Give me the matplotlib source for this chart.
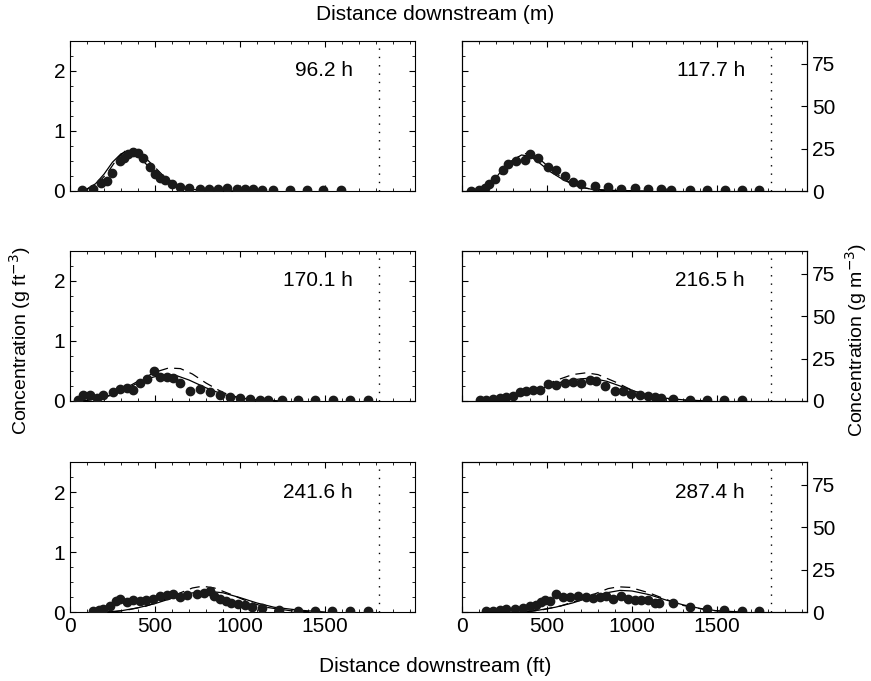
import numpy as np
import matplotlib
matplotlib.use('Agg')
import matplotlib.pyplot as plt
from matplotlib.ticker import AutoMinorLocator

plt.rcParams['font.family'] = ['Liberation Sans', 'DejaVu Sans']

labels = ['96.2 h', '117.7 h', '170.1 h', '216.5 h', '241.6 h', '287.4 h']

obs_x = [
    [69, 137, 180, 215, 250, 294, 320, 343, 372, 400, 430, 470, 500, 530, 560, 600, 647, 700, 764, 820, 870, 921, 980, 1030, 1078, 1130, 1196, 1294, 1392, 1490, 1597],
    [55, 100, 133, 160, 192, 241, 270, 320, 368, 398, 447, 505, 555, 604, 653, 702, 780, 858, 937, 1015, 1094, 1172, 1231, 1339, 1441, 1545, 1648, 1750],
    [49, 78, 118, 157, 196, 255, 294, 333, 372, 412, 451, 496, 529, 568, 608, 647, 706, 764, 823, 882, 941, 1000, 1058, 1117, 1166, 1245, 1343, 1441, 1548, 1646, 1754],
    [104, 143, 182, 221, 261, 300, 339, 378, 417, 457, 506, 555, 604, 653, 702, 751, 790, 839, 898, 947, 996, 1045, 1094, 1133, 1172, 1241, 1339, 1441, 1541, 1646],
    [137, 170, 196, 235, 270, 294, 333, 372, 412, 450, 490, 530, 568, 608, 647, 686, 745, 790, 823, 850, 882, 920, 950, 990, 1030, 1070, 1130, 1230, 1340, 1440, 1540, 1650, 1754],
    [143, 182, 221, 261, 310, 359, 398, 437, 466, 486, 515, 555, 594, 633, 682, 731, 770, 810, 849, 888, 937, 976, 1015, 1055, 1094, 1133, 1162, 1241, 1339, 1441, 1541, 1646, 1750],
]
obs_y = [
    [0.02, 0.03, 0.13, 0.16, 0.3, 0.5, 0.55, 0.62, 0.65, 0.63, 0.55, 0.4, 0.28, 0.22, 0.18, 0.12, 0.06, 0.05, 0.04, 0.04, 0.04, 0.05, 0.04, 0.03, 0.03, 0.02, 0.02, 0.01, 0.01, 0.01, 0.01],
    [0.0, 0.02, 0.05, 0.12, 0.2, 0.35, 0.45, 0.5, 0.52, 0.62, 0.55, 0.4, 0.35, 0.25, 0.15, 0.12, 0.08, 0.06, 0.04, 0.05, 0.04, 0.03, 0.02, 0.01, 0.01, 0.01, 0.01, 0.01],
    [0.02, 0.1, 0.1, 0.05, 0.1, 0.15, 0.2, 0.22, 0.18, 0.3, 0.37, 0.5, 0.4, 0.4, 0.38, 0.3, 0.17, 0.2, 0.15, 0.1, 0.06, 0.05, 0.03, 0.02, 0.02, 0.01, 0.01, 0.01, 0.01, 0.01, 0.01],
    [0.01, 0.02, 0.03, 0.05, 0.07, 0.09, 0.15, 0.17, 0.18, 0.19, 0.28, 0.26, 0.3, 0.32, 0.3, 0.35, 0.33, 0.25, 0.17, 0.16, 0.12, 0.1, 0.08, 0.06, 0.05, 0.04, 0.02, 0.01, 0.01, 0.01],
    [0.02, 0.03, 0.05, 0.1, 0.18, 0.22, 0.16, 0.2, 0.18, 0.2, 0.22, 0.27, 0.28, 0.3, 0.25, 0.28, 0.3, 0.32, 0.35, 0.27, 0.22, 0.18, 0.15, 0.13, 0.11, 0.09, 0.06, 0.04, 0.02, 0.02, 0.01, 0.01, 0.01],
    [0.01, 0.02, 0.03, 0.05, 0.05, 0.07, 0.1, 0.12, 0.17, 0.2, 0.18, 0.3, 0.25, 0.25, 0.27, 0.25, 0.24, 0.25, 0.27, 0.22, 0.26, 0.22, 0.2, 0.2, 0.2, 0.15, 0.15, 0.15, 0.08, 0.05, 0.03, 0.02, 0.02],
]

solid_x = [
    [80, 150, 200, 250, 300, 340, 380, 430, 500, 560, 620, 700, 800, 1000],
    [60, 130, 180, 230, 290, 350, 400, 450, 520, 600, 680, 760, 900, 1100],
    [60, 150, 250, 350, 450, 550, 620, 700, 800, 900, 1000, 1100, 1250],
    [100, 200, 300, 400, 500, 600, 700, 760, 850, 950, 1050, 1150, 1300, 1450],
    [200, 300, 400, 500, 600, 700, 800, 900, 1000, 1100, 1200, 1350, 1500],
    [350, 450, 550, 650, 750, 850, 930, 1000, 1100, 1200, 1300, 1400, 1500, 1650],
]
solid_y = [
    [0.0, 0.12, 0.28, 0.48, 0.62, 0.66, 0.62, 0.5, 0.3, 0.17, 0.08, 0.03, 0.01, 0.0],
    [0.0, 0.05, 0.15, 0.33, 0.5, 0.6, 0.58, 0.48, 0.32, 0.18, 0.08, 0.03, 0.01, 0.0],
    [0.0, 0.03, 0.1, 0.23, 0.37, 0.44, 0.43, 0.35, 0.22, 0.11, 0.05, 0.02, 0.0],
    [0.0, 0.02, 0.06, 0.14, 0.24, 0.33, 0.37, 0.38, 0.33, 0.23, 0.13, 0.06, 0.02, 0.0],
    [0.0, 0.02, 0.07, 0.14, 0.23, 0.31, 0.35, 0.32, 0.24, 0.15, 0.08, 0.03, 0.0],
    [0.0, 0.03, 0.08, 0.15, 0.24, 0.32, 0.36, 0.35, 0.29, 0.2, 0.12, 0.06, 0.02, 0.0],
]
dash_x = [
    [80, 160, 220, 280, 330, 370, 420, 480, 540, 600, 680, 780, 950],
    [70, 150, 200, 260, 320, 380, 430, 490, 560, 640, 720, 820, 1000],
    [80, 200, 300, 400, 500, 580, 650, 720, 800, 900, 1000, 1100, 1250],
    [120, 250, 350, 450, 550, 650, 730, 800, 900, 1000, 1100, 1250, 1400],
    [250, 350, 450, 550, 650, 720, 780, 850, 950, 1050, 1150, 1300, 1450],
    [380, 480, 580, 680, 780, 860, 920, 990, 1100, 1200, 1300, 1450, 1600],
]
dash_y = [
    [0.0, 0.12, 0.3, 0.55, 0.68, 0.7, 0.62, 0.45, 0.28, 0.15, 0.06, 0.01, 0.0],
    [0.0, 0.06, 0.17, 0.38, 0.55, 0.63, 0.6, 0.45, 0.28, 0.13, 0.05, 0.01, 0.0],
    [0.0, 0.06, 0.17, 0.33, 0.48, 0.55, 0.54, 0.45, 0.3, 0.14, 0.05, 0.01, 0.0],
    [0.0, 0.04, 0.1, 0.21, 0.34, 0.44, 0.47, 0.44, 0.32, 0.18, 0.08, 0.02, 0.0],
    [0.0, 0.04, 0.1, 0.2, 0.32, 0.4, 0.43, 0.4, 0.29, 0.17, 0.08, 0.02, 0.0],
    [0.0, 0.04, 0.1, 0.19, 0.3, 0.39, 0.42, 0.41, 0.32, 0.21, 0.11, 0.03, 0.0],
]

FT3_TO_M3 = 35.315
W, H = 871, 681
FS = 15

fig = plt.figure(figsize=(W / 100, H / 100), dpi=100)
lefts = [70, 462]
bottoms = [191, 401, 612]
aw, ah = 345, 150

for i in range(6):
    row, col = i // 2, i % 2
    ax = fig.add_axes([lefts[col] / W, 1 - bottoms[row] / H, aw / W, ah / H])
    ax.plot(obs_x[i], obs_y[i], 'o', color='#1a1a1a', markersize=6, zorder=3)
    ax.plot(solid_x[i], solid_y[i], '-', color='k', linewidth=0.9, zorder=2)
    ax.plot(dash_x[i], dash_y[i], '--', color='k', linewidth=0.9, dashes=(8, 5), zorder=2)
    ax.axvline(1820, color='k', linestyle=(0, (1, 5)), linewidth=1)
    ax.set_xlim(0, 2030)
    ax.set_ylim(0, 2.5)
    ax.set_xticks([0, 500, 1000, 1500])
    ax.set_yticks([0, 1, 2])
    ax.xaxis.set_minor_locator(AutoMinorLocator(5))
    ax.yaxis.set_minor_locator(AutoMinorLocator(4))
    ax.tick_params(which='both', direction='in', top=True, right=True, labelsize=FS)
    ax.tick_params(which='major', length=4)
    ax.tick_params(which='minor', length=2)
    if row < 2:
        ax.set_xticklabels([])
    ax.text(0.82, 0.8, labels[i], transform=ax.transAxes, ha='right', va='center', fontsize=FS)
    if col == 1:
        ax.set_yticklabels([])
        ax2 = ax.twinx()
        ax2.set_ylim(0, 2.5 * FT3_TO_M3)
        ax2.set_yticks([0, 25, 50, 75])
        ax2.tick_params(direction='in', labelsize=FS, length=4)

fig.text(0.5, 1 - 14 / H, 'Distance downstream (m)', ha='center', va='center', fontsize=FS)
fig.text(0.5, 1 - 666 / H, 'Distance downstream (ft)', ha='center', va='center', fontsize=FS)
fig.text(20 / W, 0.5, 'Concentration (g ft$^{-3}$)', rotation=90, ha='center', va='center', fontsize=14)
fig.text(856 / W, 0.5, 'Concentration (g m$^{-3}$)', rotation=90, ha='center', va='center', fontsize=14)

fig.savefig('out.png', dpi=100)
